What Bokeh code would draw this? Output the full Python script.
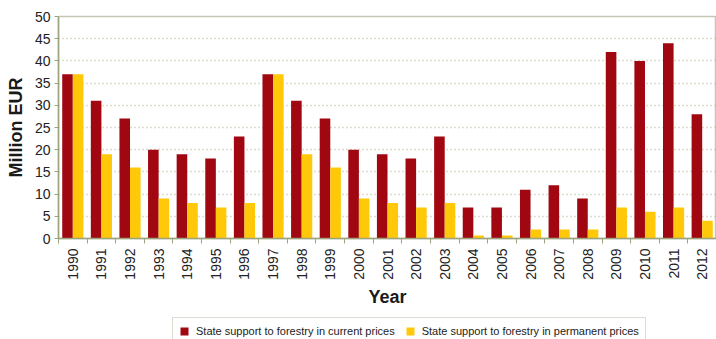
from bokeh.plotting import figure
from bokeh.layouts import column
from bokeh.models import Range1d, FixedTicker, Legend, LegendItem
from bokeh.embed import file_html
from bokeh.resources import INLINE

years = [str(y) for y in range(1990, 2013)]
current_prices = [37, 31, 27, 20, 19, 18, 23, 37, 31, 27, 20, 19, 18, 23, 7, 7, 11, 12, 9, 42, 40, 44, 28]
permanent_prices = [37, 19, 16, 9, 8, 7, 8, 37, 19, 16, 9, 8, 7, 8, 0.7, 0.7, 2, 2, 2, 7, 6, 7, 4]
y_ticks = [0, 5, 10, 15, 20, 25, 30, 35, 40, 45, 50]
series_labels = ["State support to forestry in current prices",
                 "State support to forestry in permanent prices"]

FONT = "Liberation Sans"
DARK = "#A00711"
YELLOW = "#FFC90A"
AXIS = "#9ba47c"

n = len(years)
centers = [i + 0.5 for i in range(n)]
bounds = [float(i) for i in range(n + 1)]
bw = 0.37

p = figure(width=716, height=317, output_backend="svg", toolbar_location=None,
           x_range=Range1d(0, n), y_range=Range1d(0, 50),
           min_border_left=58, min_border_right=0, min_border_top=16, min_border_bottom=79)

p.vbar(x=[c - bw / 2 for c in centers], top=current_prices, width=bw, color=DARK, line_color=None)
p.vbar(x=[c + bw / 2 for c in centers], top=permanent_prices, width=bw, color=YELLOW, line_color=None)

p.outline_line_color = "#c4c7b4"
p.outline_line_width = 1.5
p.background_fill_color = "white"
p.border_fill_color = "white"

p.xgrid.grid_line_color = None
p.ygrid.grid_line_color = "#b9b99f"
p.ygrid.grid_line_dash = "1 3"
p.ygrid.grid_line_width = 1.3

p.xaxis.ticker = FixedTicker(ticks=centers, minor_ticks=bounds)
p.xaxis.major_label_overrides = {c: y for c, y in zip(centers, years)}
p.xaxis.major_label_orientation = 1.5708
p.xaxis.major_tick_line_color = None
p.xaxis.minor_tick_line_color = AXIS
p.xaxis.minor_tick_out = 5
p.xaxis.minor_tick_in = 0
p.xaxis.axis_line_color = AXIS
p.xaxis.axis_line_width = 1.5
p.xaxis.axis_label = "Year"

p.yaxis.ticker = FixedTicker(ticks=y_ticks)
p.yaxis.minor_tick_line_color = None
p.yaxis.major_tick_line_color = AXIS
p.yaxis.major_tick_out = 4
p.yaxis.major_tick_in = 0
p.yaxis.axis_line_color = AXIS
p.yaxis.axis_line_width = 1.5
p.yaxis.axis_label = "Million EUR"

for ax in (p.xaxis, p.yaxis):
    ax.major_label_text_font = FONT
    ax.major_label_text_font_size = "14px"
    ax.major_label_text_color = "#222222"
    ax.axis_label_text_font = FONT
    ax.axis_label_text_font_style = "bold"
    ax.axis_label_text_font_size = "18px"
    ax.axis_label_text_color = "#1a1a1a"
p.xaxis.major_label_standoff = 4
p.xaxis.axis_label_standoff = 4
p.yaxis.major_label_standoff = 4
p.yaxis.axis_label_standoff = 6

# legend strip below the chart (its frame is aligned with the chart's frame)
p2 = figure(width=716, height=22, output_backend="svg", toolbar_location=None,
            x_range=Range1d(0, 1), y_range=Range1d(0, 1), min_border=0)
p2.axis.visible = False
p2.grid.visible = False
p2.outline_line_color = None
p2.border_fill_color = "white"
l1 = p2.vbar(x=[0.5], top=[0], width=0.01, color=DARK, line_color=None)
l2 = p2.vbar(x=[0.5], top=[0], width=0.01, color=YELLOW, line_color=None)

legend = Legend(items=[LegendItem(label=series_labels[0], renderers=[l1]),
                       LegendItem(label=series_labels[1], renderers=[l2])],
                orientation="horizontal", location=(114, -6))
legend.label_text_font = FONT
legend.label_text_font_size = "11px"
legend.label_text_color = "#222222"
legend.label_height = 14
legend.border_line_color = "#b8bca8"
legend.border_line_width = 1.2
legend.glyph_width = 10
legend.glyph_height = 10
legend.spacing = 10
legend.padding = 6
legend.margin = 0
legend.label_standoff = 7
p2.add_layout(legend, "center")

open("out.html", "w").write(file_html(column(p, p2, spacing=0), INLINE))
